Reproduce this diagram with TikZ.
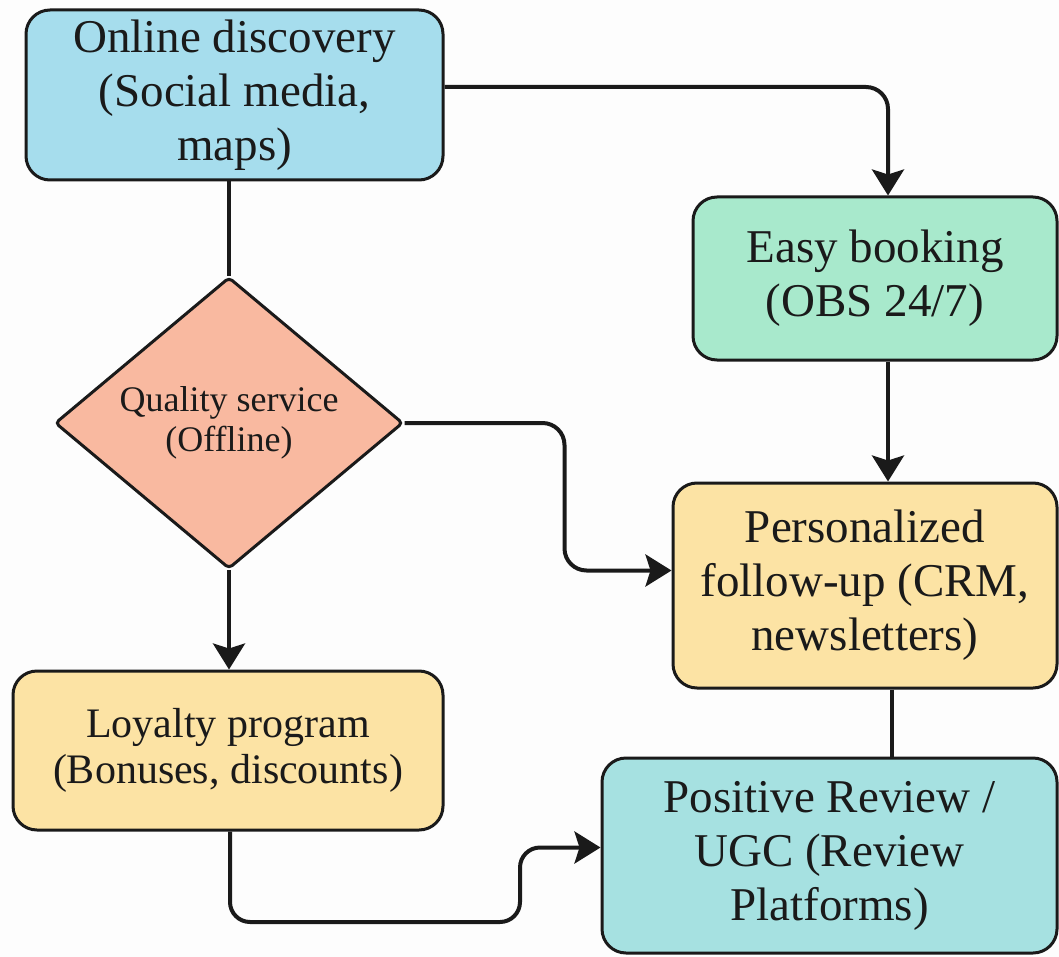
\documentclass[tikz,border=0pt]{standalone}
\usepackage{fontspec}
\setmainfont{Liberation Serif}
\usetikzlibrary{shapes.geometric,arrows.meta,calc}
\definecolor{bgc}{HTML}{FDFDFD}
\definecolor{edgec}{HTML}{1A1A1A}
\definecolor{bluec}{HTML}{A6DDED}
\definecolor{greenc}{HTML}{A8E9CC}
\definecolor{salmonc}{HTML}{F9B9A0}
\definecolor{yellowc}{HTML}{FCE3A4}
\definecolor{tealc}{HTML}{A6E1E1}
\tikzset{
  box/.style={draw=edgec, line width=3pt, rounded corners=24pt, align=center,
    inner sep=0pt, text=edgec, font=\fontsize{47}{54}\selectfont},
  dia/.style={diamond, draw=edgec, line width=3pt, rounded corners=4pt, inner sep=0pt,
    align=center, text=edgec, fill=salmonc, font=\fontsize{36}{40}\selectfont},
  conn/.style={draw=edgec, line width=4pt, rounded corners=22pt},
  arr/.style={conn, -{Stealth[length=26pt, width=32pt, inset=5pt]}}
}
\begin{document}
\begin{tikzpicture}[x=1pt, y=-1pt]
\fill[bgc] (0,0) rectangle (1059,957);
\useasboundingbox (0,0) rectangle (1059,957);

\node[box, fill=bluec, minimum width=417pt, minimum height=170pt] (on) at (234.5,95)
  {Online discovery\\(Social media,\\maps)};
\node[box, fill=greenc, minimum width=364pt, minimum height=163pt] (eb) at (875,278.5)
  {Easy booking\\(OBS 24/7)};
\node[dia, minimum width=348pt, minimum height=275pt] (dq) at (229,423)
  {Quality service\\(Offline)};
\node[box, fill=yellowc, minimum width=384pt, minimum height=205pt] (pf) at (865,585.5)
  {Personalized\\follow-up (CRM,\\newsletters)};
\node[box, fill=yellowc, minimum width=430pt, minimum height=159pt,
  font=\fontsize{42}{46}\selectfont] (ld) at (228,750.5)
  {Loyalty program\\(Bonuses, discounts)};
\node[box, fill=tealc, minimum width=455pt, minimum height=195pt] (pr) at (829.5,855.5)
  {Positive Review /\\UGC (Review\\Platforms)};

\coordinate (m1) at (520,922);

\draw[arr] ([yshift=8pt]on.east) -| ([xshift=13pt]eb.north);
\draw[conn] (on.south -| dq.north) -- (dq.north);
\draw[arr] ([xshift=13pt]eb.south) -- ([xshift=13pt]eb.south |- pf.north);
\draw[arr] (dq.east) -- ++(160,0) |- ([yshift=15pt]pf.west);
\draw[arr] (dq.south) -- (dq.south |- ld.north);
\draw[conn] ([xshift=27pt]pf.south) -- ([xshift=27pt]pf.south |- pr.north);
\draw[arr, rounded corners=20pt] ([xshift=2pt]ld.south) |- (m1) |- ([yshift=8pt]pr.west);
\end{tikzpicture}
\end{document}
